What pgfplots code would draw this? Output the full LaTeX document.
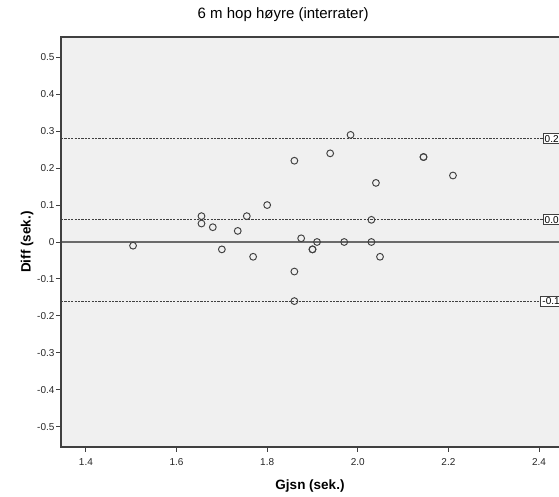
\documentclass[border=0pt]{standalone}
\usepackage{pgfplots}
\pgfplotsset{compat=1.18}
\usepackage{fontspec}
\setmainfont{Liberation Sans}
\definecolor{panel}{HTML}{F0F0F0}
\definecolor{ink}{HTML}{404040}
\definecolor{zeroline}{HTML}{6A6A6A}

\begin{document}
\begin{tikzpicture}
\begin{axis}[
  name=ax,
  scale only axis, width=498pt, height=410pt,
  xmin=1.345, xmax=2.444, ymin=-0.555, ymax=0.555,
  clip=false,
  axis background/.style={fill=panel},
  axis line style={draw=none},
  xtick={1.4,1.6,1.8,2.0,2.2,2.4},
  ytick={-0.5,-0.4,-0.3,-0.2,-0.1,0,0.1,0.2,0.3,0.4,0.5},
  tick align=outside, major tick length=5pt,
  tick style={ink, line width=0.9pt},
  xtick pos=bottom, ytick pos=left,
  tick label style={font=\fontsize{10}{12}\selectfont, text=black!85},
  /pgf/number format/assume math mode=true,
  xticklabel style={/pgf/number format/.cd, fixed, fixed zerofill, precision=1, /tikz/.cd, yshift=-3pt},
  yticklabel style={/pgf/number format/.cd, fixed, precision=1, /tikz/.cd, xshift=2pt},
  title={6 m hop høyre (interrater)},
  title style={font=\fontsize{15}{18}\selectfont, at={(axis description cs:0.446,1)}, anchor=base, yshift=12pt},
  xlabel={\textbf{Gjsn (sek.)}},
  xlabel style={font=\fontsize{13.5}{16}\selectfont, at={(axis description cs:0.5,0)}, anchor=base, yshift=-42pt},
  ylabel={\textbf{Diff (sek.)}},
  ylabel style={font=\fontsize{13.5}{16}\selectfont, at={(axis description cs:-0.068,0.5)}, anchor=center},
]
% reference lines
\addplot[zeroline, line width=1.1pt] coordinates {(1.345,0) (2.444,0)};
\addplot[ink, line width=0.85pt, dash pattern=on 2.2pt off 1.2pt] coordinates {(1.345,0.28) (2.444,0.28)};
\addplot[ink, line width=0.85pt, dash pattern=on 2.2pt off 1.2pt] coordinates {(1.345,0.06) (2.444,0.06)};
\addplot[ink, line width=0.85pt, dash pattern=on 2.2pt off 1.2pt] coordinates {(1.345,-0.16) (2.444,-0.16)};
% observations
\addplot[only marks, mark=o, mark size=3.4pt, mark options={ink, line width=0.95pt}] coordinates {
  (1.504,-0.01) (1.655,0.07) (1.655,0.05) (1.680,0.04) (1.700,-0.02)
  (1.735,0.03) (1.755,0.07) (1.769,-0.04) (1.800,0.10) (1.860,0.22)
  (1.860,-0.08) (1.860,-0.16) (1.875,0.01) (1.900,-0.02) (1.900,-0.02)
  (1.910,0.00) (1.939,0.24) (1.970,0.00) (1.984,0.29) (2.145,0.23)
  (2.145,0.23) (2.040,0.16) (2.210,0.18) (2.030,0.06) (2.030,0.00)
  (2.049,-0.04)
};
% frame: left, top, bottom
\draw[ink, line width=1.4pt] (rel axis cs:1,1) -- (rel axis cs:0,1) -- (rel axis cs:0,0) -- (rel axis cs:1,0);
% limit labels
\node[overlay, anchor=west, draw=ink, fill=white, line width=1pt, inner sep=1.5pt, font=\fontsize{10}{12}\selectfont] at (axis cs:2.408,0.28) {0.28};
\node[overlay, anchor=west, draw=ink, fill=white, line width=1pt, inner sep=1.5pt, font=\fontsize{10}{12}\selectfont] at (axis cs:2.408,0.06) {0.06};
\node[overlay, anchor=west, draw=ink, fill=white, line width=1pt, inner sep=1.5pt, font=\fontsize{10}{12}\selectfont] at (axis cs:2.403,-0.16) {-0.16};
\end{axis}
\pgfresetboundingbox
\path ([xshift=-61pt,yshift=-50pt]ax.south west) rectangle ([yshift=37pt]ax.north east);
\end{tikzpicture}
\end{document}
